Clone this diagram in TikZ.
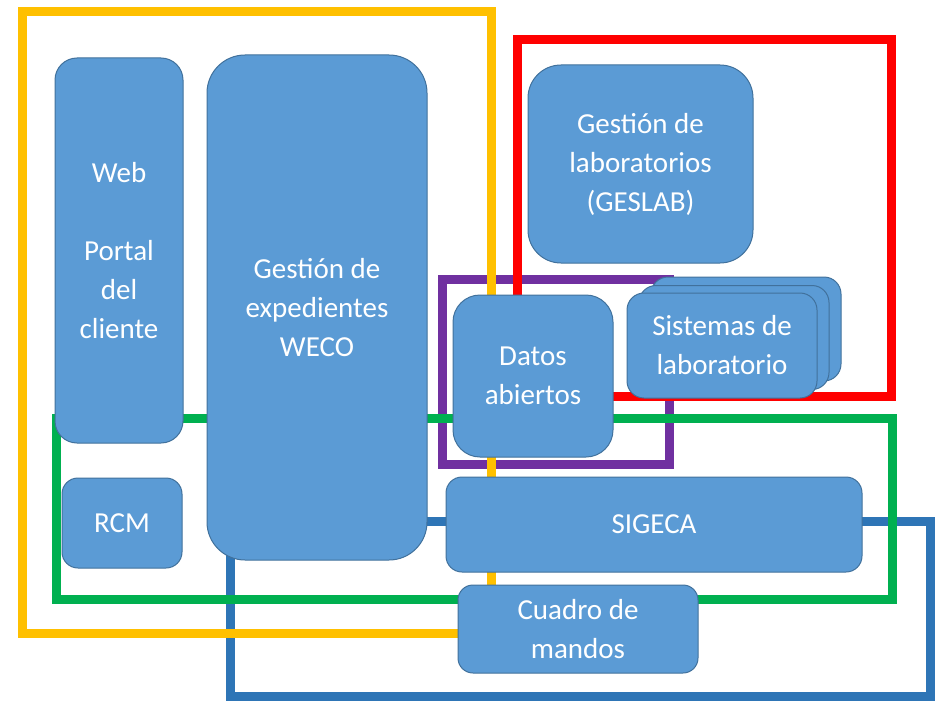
\documentclass[tikz,border=0pt]{standalone}
\usepackage{fontspec}
\setmainfont{Carlito}
\definecolor{boxfill}{HTML}{5B9BD5}
\definecolor{boxline}{HTML}{41719C}
\definecolor{cyellow}{HTML}{FFC000}
\definecolor{cred}{HTML}{FF0000}
\definecolor{cpurple}{HTML}{7030A0}
\definecolor{cgreen}{HTML}{00B050}
\definecolor{cblue}{HTML}{2E75B6}
\tikzset{
  box/.style={draw=boxline, line width=1pt, fill=boxfill, text=white, align=center,
    inner sep=0pt, font=\fontsize{29}{39}\selectfont},
  frame/.style={line width=9pt, line join=miter},
}
\begin{document}
\begin{tikzpicture}[x=1pt,y=-1pt]
\useasboundingbox (0,0) rectangle (940,701);
% frames (behind boxes)
\draw[frame, cblue] (230,521) rectangle (930,696);
\draw[frame, cpurple] (442,279) rectangle (669,464);
\draw[frame, cred] (517,40) rectangle (891,396);
\draw[frame, cyellow] (22,12) rectangle (491,633);
\draw[frame, cgreen] (56,418) rectangle (892,599);
% boxes
\node[box, minimum width=128pt, minimum height=385pt, rounded corners=22pt] (web) at (119,250.5)
  {Web\\\mbox{}\\Portal\\del\\cliente};
\node[box, minimum width=220pt, minimum height=505pt, rounded corners=38pt] (weco) at (317,307.5)
  {Gestión de\\expedientes\\WECO};
\node[box, minimum width=120pt, minimum height=90pt, rounded corners=16pt] (rcm) at (122,523) {RCM};
\node[box, minimum width=225pt, minimum height=198pt, rounded corners=33pt] (geslab) at (640.5,164)
  {Gestión de\\laboratorios\\(GESLAB)};
\node[box, minimum width=190pt, minimum height=104pt, rounded corners=17pt] (sis3) at (746,329) {};
\node[box, minimum width=190pt, minimum height=104pt, rounded corners=17pt] (sis2) at (734,337.5) {};
\node[box, minimum width=190pt, minimum height=105pt, rounded corners=17pt] (sis1) at (722,345.5)
  {Sistemas de\\laboratorio};
\node[box, minimum width=160pt, minimum height=162pt, rounded corners=27pt] (datos) at (533,376)
  {Datos\\abiertos};
\node[box, minimum width=416pt, minimum height=95pt, rounded corners=16pt] (sigeca) at (654,524.5) {SIGECA};
\node[box, minimum width=240pt, minimum height=88pt, rounded corners=15pt] (cuadro) at (578,629)
  {Cuadro de\\mandos};
\end{tikzpicture}
\end{document}
